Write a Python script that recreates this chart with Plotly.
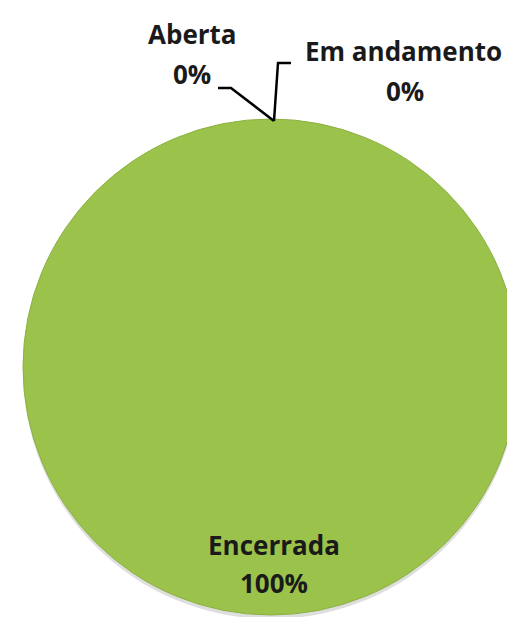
import plotly.graph_objects as go

categories = ["Aberta", "Em andamento", "Encerrada"]
values = [0, 0, 100]
colors = ["#4F81BD", "#C0504D", "#9BC34B"]

W, H = 515, 617

def px(x):
    return x / W

def py(y):
    return 1 - y / H

total = sum(values)
pcts = [f"{round(100 * v / total)}%" for v in values]

# soft shadow below the pie
fig = go.Figure()
fig.add_trace(go.Pie(
    labels=categories, values=values, sort=False,
    marker=dict(colors=["rgba(0,0,0,0)", "rgba(0,0,0,0)", "rgba(0,0,0,0.13)"]),
    textinfo="none", hoverinfo="skip", showlegend=False,
    domain=dict(x=[px(15), px(511)], y=[py(611), py(115)]),
))
fig.add_trace(go.Pie(
    labels=categories,
    values=values,
    sort=False,
    direction="clockwise",
    marker=dict(colors=colors, line=dict(color="#8CB142", width=1)),
    textinfo="none",
    hoverinfo="label+percent",
    showlegend=False,
    domain=dict(x=[px(14), px(512)], y=[py(607), py(111)]),
))

# label placement (pixel centres of each text line)
label_pos = {
    "Aberta": ((184, 26), (184, 66)),
    "Em andamento": ((395, 43), (397, 83)),
    "Encerrada": ((266, 537), (266, 575)),
}
font = dict(family="'Open Sans', sans-serif", size=26, color="#1a1a1a")
for cat, pct in zip(categories, pcts):
    (x1, y1), (x2, y2) = label_pos[cat]
    fig.add_annotation(x=px(x1), y=py(y1), xref="paper", yref="paper",
                       text=f"<b>{cat}</b>", showarrow=False, font=font,
                       xanchor="center", yanchor="middle")
    fig.add_annotation(x=px(x2), y=py(y2), xref="paper", yref="paper",
                       text=f"<b>{pct}</b>", showarrow=False, font=font,
                       xanchor="center", yanchor="middle")

# leader lines
def path(points):
    return "M " + " L ".join(f"{px(x)},{py(y)}" for x, y in points)

fig.add_shape(type="path", xref="paper", yref="paper",
              path=path([(210, 80), (223, 80), (266, 113)]),
              line=dict(color="black", width=2.5))
fig.add_shape(type="path", xref="paper", yref="paper",
              path=path([(266, 113), (270, 55), (283, 55)]),
              line=dict(color="black", width=2.5))

fig.update_layout(
    width=W, height=H,
    margin=dict(l=0, r=0, t=0, b=0),
    paper_bgcolor="white",
    plot_bgcolor="white",
)

fig.write_html("out.html")
